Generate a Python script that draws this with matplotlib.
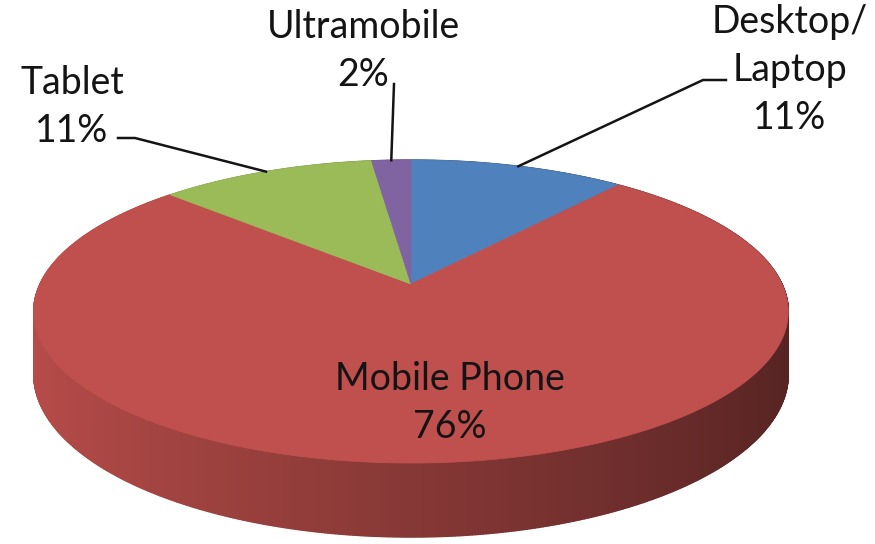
import numpy as np
import matplotlib.pyplot as plt
from matplotlib.patches import Polygon

# data
labels = ["Desktop/\nLaptop", "Mobile Phone", "Tablet", "Ultramobile"]
values = [11, 76, 11, 2]
colors = ["#4F81BD", "#C0504D", "#9BBB59", "#8064A2"]

# layout (pixel coords of the 875x544 canvas)
label_pos = [(790, 70), (450, 403), (72, 107), (363, 51)]
leader_pts = [[(703, 80), (726, 80)], None, [(135, 138), (118, 138)], [(394, 84)]]

# 3d pie geometry: perspective projection of a tilted disc
CX, CY = 411, 284
F, G, S, H = 371, 146.5, 0.1816, 60.6


def proj(theta, drop=0.0):
    X = np.sin(theta)
    Z = np.cos(theta)
    den = 1 + S * Z
    return CX + F * X / den, CY - G * Z / den + drop * H / den


def rgb(c):
    c = c.lstrip("#")
    return np.array([int(c[i:i + 2], 16) for i in (0, 2, 4)]) / 255.0


fig = plt.figure(figsize=(8.75, 5.44), dpi=100)
ax = fig.add_axes([0, 0, 1, 1])
ax.set_xlim(0, 875)
ax.set_ylim(544, 0)
ax.axis("off")

total = float(sum(values))
bounds = np.concatenate([[0], np.cumsum(values)]) / total * 2 * np.pi

# side wall, far pieces first
quads = []
for i, col in enumerate(colors):
    th = np.linspace(bounds[i], bounds[i + 1], max(int(values[i] * 10), 6))
    for a, b in zip(th[:-1], th[1:]):
        m = (a + b) / 2
        shade = 0.70 - 0.26 * np.sin(m)
        c = np.clip(rgb(col) * shade, 0, 1)
        pts = [proj(a), proj(b), proj(b, 1), proj(a, 1)]
        quads.append((np.cos(m), pts, c))
quads.sort(key=lambda q: -q[0])
for _, pts, c in quads:
    ax.add_patch(Polygon(pts, closed=True, facecolor=c, edgecolor=c, lw=1.0))

# top face
for i, col in enumerate(colors):
    th = np.linspace(bounds[i], bounds[i + 1], max(int(values[i] * 4), 4))
    pts = [(CX, CY)] + [proj(t) for t in th]
    ax.add_patch(Polygon(pts, closed=True, facecolor=col, edgecolor=col, lw=0.6))

# labels and leader lines
for i in range(len(labels)):
    txt = labels[i] + "\n" + f"{values[i]}%"
    x, y = label_pos[i]
    ax.text(x, y, txt, ha="center", va="center", fontsize=27, family="Lato",
            color="#141414", linespacing=1.42)
    if leader_pts[i] is not None:
        mid = (bounds[i] + bounds[i + 1]) / 2
        sx, sy = proj(mid)
        xs = [sx] + [p[0] for p in leader_pts[i]]
        ys = [sy] + [p[1] for p in leader_pts[i]]
        ax.plot(xs, ys, color="#141414", lw=1.8)

fig.savefig("out.png", dpi=100)
